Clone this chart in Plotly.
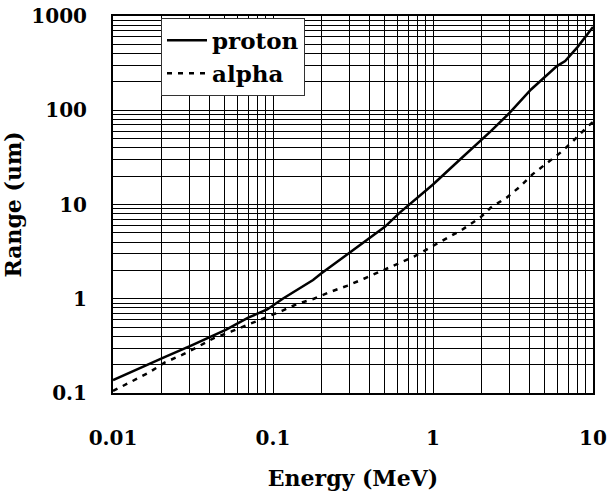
import plotly.graph_objects as go

# Data
proton_energy = [0.01, 0.0163, 0.021, 0.031, 0.04, 0.051, 0.07, 0.092, 0.115, 0.133,
                 0.147, 0.178, 0.2, 0.3, 0.39, 0.5, 0.62, 0.75, 1.0, 1.475, 2.02,
                 2.3, 3.03, 4.1, 5.95, 6.7, 8.0, 10]
proton_range = [0.137, 0.2, 0.24, 0.32, 0.39, 0.47, 0.63, 0.77, 1.0, 1.17,
                1.3, 1.58, 1.85, 3.08, 4.25, 5.8, 8.2, 10.8, 16.3, 30, 49,
                60, 95, 166, 294, 332, 468, 764]

alpha_energy = [0.01, 0.0131, 0.0166, 0.021, 0.027, 0.034, 0.043, 0.055, 0.07, 0.089,
                0.114, 0.143, 0.18, 0.23, 0.29, 0.37, 0.47, 0.6, 0.76, 0.96, 1.22,
                1.52, 1.98, 2.3, 2.9, 3.5, 4.2, 5.2, 6.4, 7.5, 9.3, 10]
alpha_range = [0.105, 0.134, 0.163, 0.21, 0.254, 0.31, 0.385, 0.45, 0.53, 0.63,
               0.745, 0.885, 1.0, 1.19, 1.37, 1.63, 1.94, 2.35, 2.8, 3.5, 4.35,
               5.4, 7.3, 9.3, 11.9, 15.5, 21, 28, 36.6, 47, 68, 75]

x_tickvals = [0.01, 0.1, 1, 10]
x_ticktext = ["0.01", "0.1", "1", "10"]
y_tickvals = [0.1, 1, 10, 100, 1000]
y_ticktext = ["0.1", "1", "10", "100", "1000"]

FONT = "DejaVu Serif"

fig = go.Figure()
fig.add_trace(go.Scatter(x=proton_energy, y=proton_range, mode="lines", name="<b>proton</b>",
                         line=dict(color="black", width=2.5)))
fig.add_trace(go.Scatter(x=alpha_energy, y=alpha_range, mode="lines", name="<b>alpha</b>",
                         line=dict(color="black", width=2.5, dash="5px,6px")))

axis_common = dict(
    type="log", automargin=False,
    showline=True, linecolor="black", linewidth=2, mirror=True,
    showgrid=True, gridcolor="black", gridwidth=1,
    ticks="", zeroline=False,
    tickfont=dict(family=FONT, size=20, color="black", weight="bold"),
    minor=dict(dtick="D1", showgrid=True, gridcolor="black", gridwidth=1, ticks=""),
)

fig.update_xaxes(**axis_common, range=[-2, 1], tickvals=x_tickvals, ticktext=x_ticktext,
                 ticklabelstandoff=26,
                 title=dict(text="<b>Energy (MeV)</b>", font=dict(family=FONT, size=22, color="black"),
                            standoff=22))
fig.update_yaxes(**axis_common, range=[-1, 3], tickvals=y_tickvals, ticktext=y_ticktext,
                 ticklabelstandoff=20,
                 title=dict(text="<b>Range (um)</b>", font=dict(family=FONT, size=22, color="black"),
                            standoff=22))

fig.update_layout(
    width=615, height=501,
    font=dict(family=FONT),
    margin=dict(l=113, r=22, t=16, b=108, autoexpand=False),
    paper_bgcolor="white", plot_bgcolor="white",
    showlegend=True,
    legend=dict(x=0.1, y=0.995, xanchor="left", yanchor="top",
                bgcolor="white", bordercolor="#333", borderwidth=1,
                font=dict(family=FONT, size=23, color="black"),
                tracegroupgap=0, itemwidth=40),
)

fig.write_html("out.html")
